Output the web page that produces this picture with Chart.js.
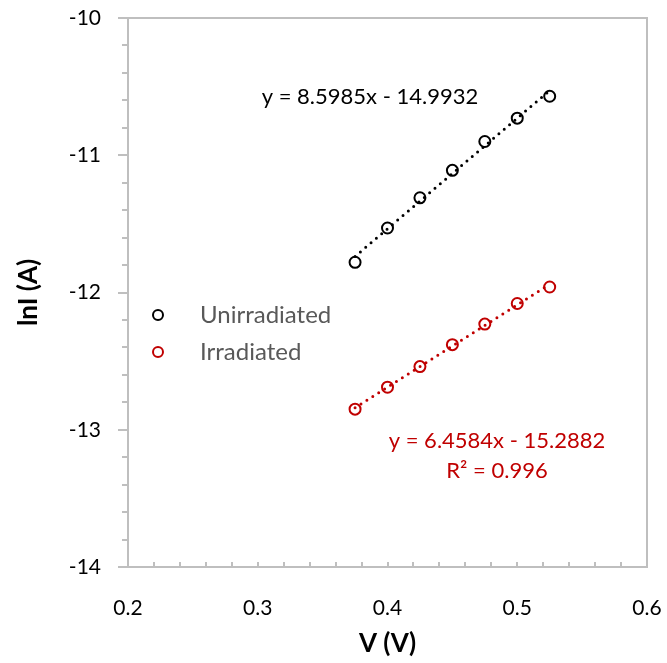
<!DOCTYPE html>
<html>
<head>
<meta charset="utf-8">
<script src="https://cdn.jsdelivr.net/npm/chart.js@4/dist/chart.umd.min.js"></script>
<style>
  html, body { margin: 0; padding: 0; background: #fff; }
</style>
</head>
<body>
<canvas id="chart" width="667" height="663"></canvas>
<script>
// data
const voltage = [0.375, 0.4, 0.425, 0.45, 0.475, 0.5, 0.525];
const unirradiated = [-11.78, -11.53, -11.31, -11.11, -10.90, -10.73, -10.57];
const irradiated = [-12.85, -12.69, -12.54, -12.38, -12.23, -12.08, -11.96];
const seriesNames = ['Unirradiated', 'Irradiated'];
const xTicks = [0.2, 0.3, 0.4, 0.5, 0.6];
const yTicks = [-14, -13, -12, -11, -10];
const unirradiatedFitText = ['y = 8.5985x - 14.9932'];
const irradiatedFitText = ['y = 6.4584x - 15.2882', 'R² = 0.996'];

const BLACK = '#000000';
const RED = '#C00000';
const AXIS = '#BFBFBF';
const FONT = 'Lato, "Open Sans", sans-serif';

function toPoints(xs, ys) {
    return xs.map((x, i) => ({ x: x, y: ys[i] }));
}

// least squares line across the measured range (Excel trendline)
function trendline(xs, ys) {
    const n = xs.length;
    const mx = xs.reduce((a, b) => a + b, 0) / n;
    const my = ys.reduce((a, b) => a + b, 0) / n;
    let sxy = 0, sxx = 0;
    for (let i = 0; i < n; i++) {
        sxy += (xs[i] - mx) * (ys[i] - my);
        sxx += (xs[i] - mx) * (xs[i] - mx);
    }
    const slope = sxy / sxx;
    const x0 = xs[0], x1 = xs[n - 1];
    return [
        { x: x0, y: my + slope * (x0 - mx) },
        { x: x1, y: my + slope * (x1 - mx) }
    ];
}

function fitDataset(xs, ys, color) {
    return {
        type: 'line',
        data: trendline(xs, ys),
        borderColor: color,
        borderWidth: 3,
        borderDash: [0, 7],
        borderCapStyle: 'round',
        pointRadius: 0,
        fill: false
    };
}

function pointDataset(label, xs, ys, color) {
    return {
        label: label,
        data: toPoints(xs, ys),
        borderColor: color,
        backgroundColor: 'rgba(0,0,0,0)',
        pointRadius: 5.5,
        pointBorderWidth: 2,
        pointStyle: 'circle',
        showLine: false
    };
}

// frame, Excel style tick marks, legend and trendline labels
const decorations = {
    id: 'decorations',
    afterDraw(chart) {
        const ctx = chart.ctx;
        const area = chart.chartArea;
        const xs = chart.scales.x;
        const ys = chart.scales.y;
        ctx.save();
        ctx.strokeStyle = AXIS;
        ctx.lineWidth = 2;
        ctx.strokeRect(area.left, area.top, area.right - area.left, area.bottom - area.top);

        ctx.beginPath();
        for (let v = -14; v <= -10.0001; v += 0.2) {
            const py = Math.round(ys.getPixelForValue(v));
            const major = Math.abs(v - Math.round(v)) < 1e-6;
            ctx.moveTo(area.left - (major ? 10 : 6), py);
            ctx.lineTo(area.left, py);
        }
        ctx.moveTo(area.left - 10, area.top);
        ctx.lineTo(area.left, area.top);
        for (let v = 0.22; v < 0.6; v += 0.02) {
            const px = Math.round(xs.getPixelForValue(v));
            ctx.moveTo(px, area.bottom);
            ctx.lineTo(px, area.bottom - 5);
        }
        ctx.stroke();

        // legend
        ctx.textBaseline = 'middle';
        ctx.textAlign = 'left';
        ctx.font = '24px ' + FONT;
        const legend = [[seriesNames[0], BLACK, 315], [seriesNames[1], RED, 352]];
        legend.forEach(([name, color, y]) => {
            ctx.beginPath();
            ctx.strokeStyle = color;
            ctx.lineWidth = 2;
            ctx.arc(158, y, 5, 0, Math.PI * 2);
            ctx.stroke();
            ctx.fillStyle = '#595959';
            ctx.fillText(name, 200, y);
        });

        // trendline equations
        ctx.font = '22px ' + FONT;
        ctx.textAlign = 'center';
        ctx.fillStyle = BLACK;
        ctx.fillText(unirradiatedFitText[0], xs.getPixelForValue(0.3865), ys.getPixelForValue(-10.576));
        ctx.fillStyle = RED;
        irradiatedFitText.forEach((t, i) => {
            ctx.fillText(t, xs.getPixelForValue(0.4844), ys.getPixelForValue(-13.08) + i * 30);
        });
        ctx.restore();
    }
};

new Chart(document.getElementById('chart'), {
    type: 'scatter',
    data: {
        datasets: [
            fitDataset(voltage, unirradiated, BLACK),
            fitDataset(voltage, irradiated, RED),
            pointDataset(seriesNames[0], voltage, unirradiated, BLACK),
            pointDataset(seriesNames[1], voltage, irradiated, RED)
        ]
    },
    options: {
        responsive: false,
        animation: false,
        layout: { padding: { top: 18, right: 20, left: 0, bottom: 0 } },
        plugins: {
            legend: { display: false },
            tooltip: { enabled: false }
        },
        scales: {
            x: {
                type: 'linear',
                min: 0.2,
                max: 0.6,
                afterBuildTicks: (scale) => { scale.ticks = xTicks.map(v => ({ value: v })); },
                afterFit: (scale) => {
                    scale.height = 96;
                    scale.paddingLeft = 0;
                    scale.paddingRight = 0;
                },
                grid: { display: false },
                border: { display: false },
                ticks: {
                    padding: 21,
                    color: '#000',
                    font: { family: FONT, size: 21 },
                    callback: (v) => v.toFixed(1)
                },
                title: {
                    display: true,
                    text: 'V (V)',
                    color: '#000',
                    padding: 4,
                    font: { family: FONT, size: 26, weight: 'bold' }
                }
            },
            y: {
                type: 'linear',
                min: -14,
                max: -10,
                afterBuildTicks: (scale) => { scale.ticks = yTicks.map(v => ({ value: v })); },
                afterFit: (scale) => {
                    scale.width = 128;
                    scale.paddingTop = 0;
                    scale.paddingBottom = 0;
                },
                grid: { display: false },
                border: { display: false },
                ticks: {
                    padding: 19,
                    color: '#000',
                    font: { family: FONT, size: 21 },
                    callback: (v) => String(v)
                },
                title: {
                    display: true,
                    text: 'lnI (A)',
                    color: '#000',
                    padding: 13,
                    font: { family: FONT, size: 26, weight: 'bold' }
                }
            }
        }
    },
    plugins: [decorations]
});
</script>
</body>
</html>
